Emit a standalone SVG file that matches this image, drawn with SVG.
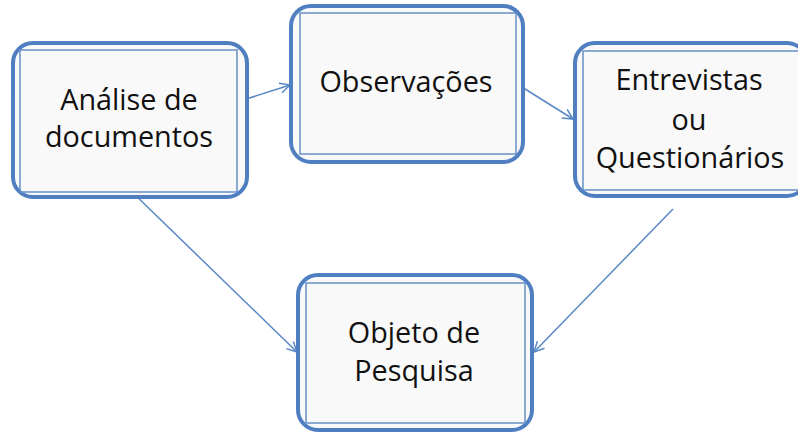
<svg xmlns="http://www.w3.org/2000/svg" width="798" height="432" viewBox="0 0 798 432">
<defs>
<style>
.outer{fill:#f9f9f9;stroke:#4f7fc0;stroke-width:4}
.inner{fill:none;stroke:#6690c8;stroke-width:1.5}
.lbl{font-family:"Open Sans","Liberation Sans",sans-serif;font-size:28.8px;fill:#111;text-anchor:middle}
.conn{stroke:#5a88c6;stroke-width:1.5;fill:none;marker-end:url(#arr)}
</style>
<marker id="arr" viewBox="0 0 12 12" refX="11" refY="6" markerWidth="12" markerHeight="12" markerUnits="userSpaceOnUse" orient="auto">
<path d="M1,1 L11,6 L1,11" fill="none" stroke="#5a88c6" stroke-width="1.5"/>
</marker>
</defs>
<rect width="798" height="432" fill="#fff"/>
<g id="connectors">
<line class="conn" x1="240" y1="101" x2="290" y2="85"/>
<line class="conn" x1="517" y1="84" x2="573" y2="119"/>
<line class="conn" x1="130" y1="190" x2="297" y2="352"/>
<line class="conn" x1="673" y1="209" x2="534" y2="352"/>
</g>
<g id="node-analise">
<rect class="outer" x="13" y="43" width="234" height="154" rx="20"/>
<rect class="inner" x="20" y="50" width="217" height="142"/>
<text class="lbl" x="129" y="110">Análise de</text>
<text class="lbl" x="129" y="147">documentos</text>
</g>
<g id="node-observacoes">
<rect class="outer" x="291" y="6" width="232" height="156" rx="20"/>
<rect class="inner" x="300" y="13" width="216" height="141"/>
<text class="lbl" x="406" y="92">Observações</text>
</g>
<g id="node-entrevistas">
<rect class="outer" x="575" y="43" width="232" height="153" rx="20"/>
<rect class="inner" x="583" y="51" width="216" height="139"/>
<text class="lbl" x="689" y="90">Entrevistas</text>
<text class="lbl" x="689" y="130">ou</text>
<text class="lbl" x="690" y="168">Questionários</text>
</g>
<g id="node-objeto">
<rect class="outer" x="298" y="275" width="234" height="155" rx="20"/>
<rect class="inner" x="306" y="283" width="219" height="140"/>
<text class="lbl" x="414" y="343">Objeto de</text>
<text class="lbl" x="414" y="381">Pesquisa</text>
</g>
</svg>
